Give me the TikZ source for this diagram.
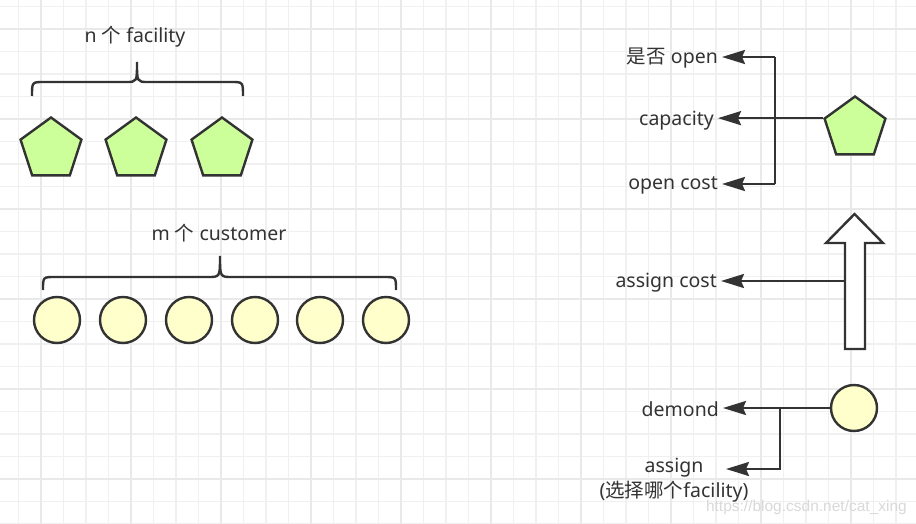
\documentclass[tikz,border=0pt]{standalone}
\usepackage{fontspec}
\setmainfont{Noto Sans}
\newfontfamily\cjk{Noto Sans CJK SC}
\newfontfamily\wmfont{Liberation Sans}
\usetikzlibrary{shapes.geometric,arrows.meta}
\definecolor{ink}{HTML}{333333}
\definecolor{facfill}{HTML}{CCFF99}
\definecolor{cusfill}{HTML}{FFFFCC}
\definecolor{gridminor}{HTML}{F0F0F0}
\definecolor{gridmajor}{HTML}{E9E9E9}
\definecolor{wmgray}{HTML}{D9D9D9}
\tikzset{
  facility/.style={regular polygon, regular polygon sides=5, minimum size=64pt, inner sep=0pt,
    draw=ink, fill=facfill, line width=2.4pt, line join=miter},
  customer/.style={circle, minimum size=46pt, inner sep=0pt, draw=ink, fill=cusfill, line width=2.4pt},
  lbl/.style={text=ink, font=\fontsize{19.5}{23}\selectfont, inner sep=0pt, yshift=-1.5pt},
  rlbl/.style={lbl, anchor=east, inner xsep=4pt},
  wire/.style={draw=ink, line width=2.5pt},
  conn/.style={wire, -{Stealth[length=23pt,width=14pt,inset=3pt]}},
  bracepath/.style={draw=ink, line width=2.4pt},
  hollowarrow/.style={draw=ink, fill=white, line width=2.4pt, line join=miter},
  minorline/.style={draw=gridminor, line width=1.2pt},
  majorline/.style={draw=gridmajor, line width=1.4pt},
  watermark/.style={text=wmgray, font=\wmfont\fontsize{15.5}{18}\selectfont, inner sep=0pt}
}
\begin{document}
\begin{tikzpicture}[x=1pt,y=-1pt]
\useasboundingbox (0,0) rectangle (916,524);
\fill[white] (0,0) rectangle (916,524);
% grid
\foreach \i in {0,...,40} \draw[minorline] (18.5+22.5*\i,0) -- ++(0,524);
\foreach \j in {0,...,23} \draw[minorline] (0,6.5+22.5*\j) -- ++(916,0);
\foreach \i in {0,...,9} \draw[majorline] (41+90*\i,0) -- ++(0,524);
\foreach \j in {0,...,5} \draw[majorline] (0,29+90*\j) -- ++(916,0);

% ---- left: facilities
\node[lbl] (ntext) at (135,35) {n {\cjk 个} facility};
\draw[bracepath] (32,96) .. controls (32,82) and (32,82) .. (44,82) -- (126,82)
  .. controls (137,82) and (137,82) .. (137,62)
  .. controls (137,82) and (137,82) .. (148,82) -- (231,82)
  .. controls (243,82) and (243,82) .. (243,96);
\node[facility] (f1) at (51,149.5) {};
\node[facility] (f2) at (136,149.5) {};
\node[facility] (f3) at (222,149.5) {};

% ---- left: customers
\node[lbl] (mtext) at (219,232) {m {\cjk 个} customer};
\draw[bracepath] (43,290) .. controls (43,277) and (43,277) .. (55,277) -- (208,277)
  .. controls (220,277) and (220,277) .. (220,256)
  .. controls (220,277) and (220,277) .. (232,277) -- (384,277)
  .. controls (396,277) and (396,277) .. (396,290);
\foreach \k/\x in {1/57,2/123,3/189,4/255,5/320,6/386}
  \node[customer] (c\k) at (\x,320) {};

% ---- right: facility attributes
\node[facility] (P) at (855,128.5) {};
\node[rlbl] (lopen) at (722,57) {{\cjk 是否} open};
\node[rlbl] (lcap) at (718,119) {capacity};
\node[rlbl] (lcost) at (722,184) {open cost};
\coordinate (jt) at (775,57);
\coordinate (jb) at (775,184);
\draw[wire] (jt) -- (jb);
\draw[conn] (jt) -- (jt -| lopen.east);
\draw[conn] (jb) -- (jb -| lcost.east);
\draw[conn] (P.corner 2) -- (P.corner 2 -| lcap.east);

% ---- right: hollow arrow
\draw[hollowarrow] (854.5,214) -- (883,243) -- (865,243) -- (865,349) -- (845,349) -- (845,243) -- (826,243) -- cycle;
\coordinate (sh) at (845,281);
\node[rlbl] (lac) at (721,281) {assign cost};
\draw[conn] (sh) -- (sh -| lac.east);

% ---- right: customer attributes
\node[customer] (C) at (854,408) {};
\node[rlbl] (ldem) at (723,408) {demond};
\draw[conn] (C.west) -- (C.west -| ldem.east);
\coordinate (jd) at (780,408);
\coordinate (asgtip) at (726,469);
\draw[conn] (jd) |- (asgtip);
\node[lbl] (lasg) at (674,466) {assign};
\node[lbl] (lasg2) at (674,490) {({\cjk 选择哪个}facility)};

% watermark
\node[watermark, anchor=east] (wm) at (907,507) {https://blog.csdn.net/cat\_xing};
\end{tikzpicture}
\end{document}
